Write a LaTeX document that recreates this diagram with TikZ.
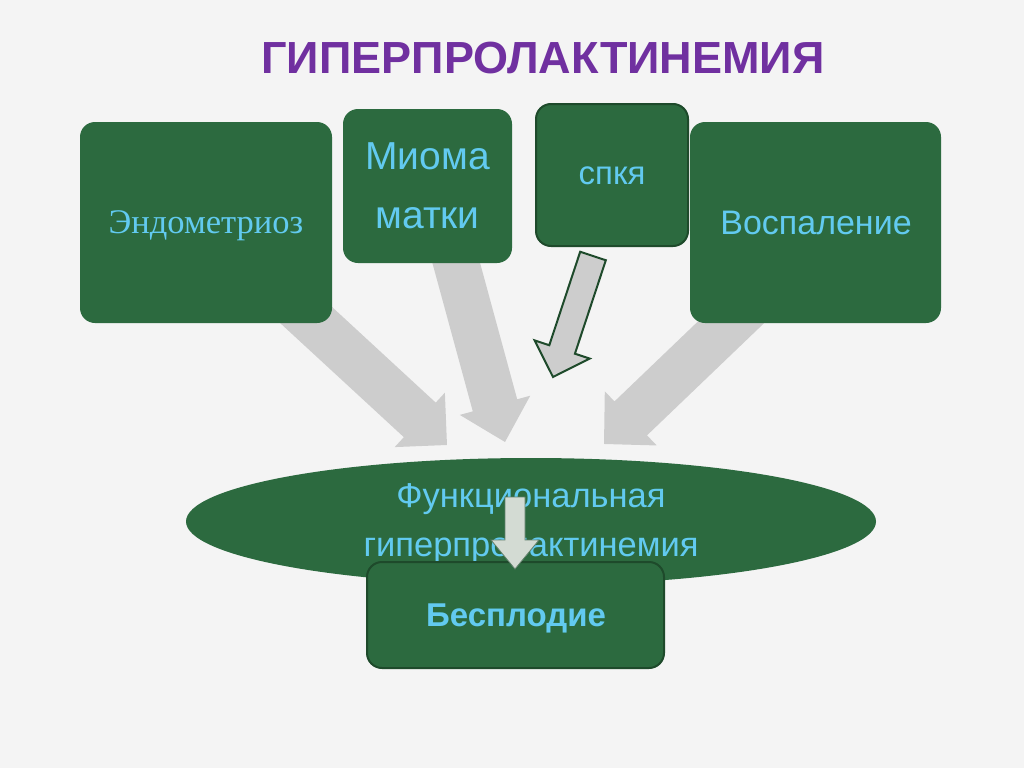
\documentclass[tikz,border=0pt]{standalone}
\usepackage{fontspec}
\setmainfont{Liberation Sans}
\newfontfamily\serifru{Liberation Serif}
\usetikzlibrary{calc,shapes.geometric}

\definecolor{bg}{HTML}{F4F4F4}
\definecolor{boxgreen}{HTML}{2C6A3F}
\definecolor{boxedge}{HTML}{1E4A2B}
\definecolor{txtblue}{HTML}{62CAF0}
\definecolor{titlepurple}{HTML}{7030A0}
\definecolor{arrowgray}{HTML}{CDCDCD}
\definecolor{smallarrow}{HTML}{D3DBD3}

% #1 style, #2 tail, #3 tip, #4 half shaft, #5 half head, #6 head length
\newcommand\blockarrow[6]{%
  \path[#1] let \p1=#2, \p2=#3,
    \n1={atan2(\y2-\y1,\x2-\x1)}, \n2={veclen(\x2-\x1,\y2-\y1)} in
    [shift={#2}, rotate=\n1]
    (0,#4) -- (\n2-#6,#4) -- (\n2-#6,#5) -- (\n2,0) -- (\n2-#6,-#5)
    -- (\n2-#6,-#4) -- (0,-#4) -- cycle;
}

\tikzset{
  greenbox/.style={rectangle, rounded corners=15pt, fill=boxgreen, inner sep=0pt},
  edgebox/.style={greenbox, draw=boxedge, line width=2pt},
  lbl/.style={text=txtblue, inner sep=0pt, anchor=base, font=\fontsize{34}{40}\selectfont},
  grayarrow/.style={fill=arrowgray},
  outlinearrow/.style={fill=arrowgray, draw=boxedge, line width=2pt, line join=miter},
  downarrow/.style={fill=smallarrow, draw=boxedge!70, line width=0.8pt},
}

\begin{document}
\begin{tikzpicture}[x=1pt, y=-1pt]
\useasboundingbox (0,0) rectangle (1024,768);
\fill[bg] (0,0) rectangle (1024,768);

% title
\node[text=titlepurple, inner sep=0pt, anchor=base,
      font=\fontsize{45}{50}\selectfont\bfseries] (title) at (543,74) {ГИПЕРПРОЛАКТИНЕМИЯ};

% arrow end points
\coordinate (tailA) at (226.5,241.6);
\coordinate (tipA)  at (447,445);
\coordinate (tailB) at (426,152);
\coordinate (tipB)  at (505,442);
\coordinate (tailC) at (820,237);
\coordinate (tipC)  at (604,444);
\coordinate (tailD) at (593,256);
\coordinate (tipD)  at (553,377);
\coordinate (tailE) at (515,497);
\coordinate (tipE)  at (515,569);

% big gray arrows (behind the boxes)
\blockarrow{grayarrow}{(tailA)}{(tipA)}{23.5}{37}{37}
\blockarrow{grayarrow}{(tailB)}{(tipB)}{23}{36.5}{38}
\blockarrow{grayarrow}{(tailC)}{(tipC)}{23.5}{37.5}{37}

% top boxes
\node[greenbox, minimum width=252pt, minimum height=201pt] (endo) at (206,222.5) {};
\node[lbl, font=\serifru\fontsize{34.5}{40}\selectfont] (endot) at (206,233) {Эндометриоз};

\node[greenbox, minimum width=169pt, minimum height=154pt] (mioma) at (427.5,186) {};
\node[lbl, font=\fontsize{39}{45}\selectfont] (miomat1) at (427.5,169) {Миома};
\node[lbl, font=\fontsize{39}{45}\selectfont] (miomat2) at (427.5,228) {матки};

\node[edgebox, minimum width=152pt, minimum height=142pt] (spkya) at (612,175) {};
\node[lbl, font=\fontsize{33}{40}\selectfont] (spkyat) at (612,184) {спкя};

\node[greenbox, minimum width=251pt, minimum height=201pt] (vosp) at (815.5,222.5) {};
\node[lbl] (vospt) at (816,234) {Воспаление};

% outlined arrow from спкя
\blockarrow{outlinearrow}{(tailD)}{(tipD)}{13.5}{29}{29}

% ellipse
\node[ellipse, fill=boxgreen, inner sep=0pt, minimum width=690pt, minimum height=127pt] (func) at (531,521.5) {};
\node[lbl, font=\fontsize{34.5}{40}\selectfont] (funct1) at (531,507) {Функциональная};
\node[lbl, font=\fontsize{34.5}{40}\selectfont] (funct2) at (531,556) {гиперпролактинемия};

% result box
\node[edgebox, minimum width=297pt, minimum height=106pt] (besp) at (515.5,615) {};
\node[lbl, font=\fontsize{33}{40}\selectfont\bfseries] (bespt) at (516,626) {Бесплодие};

% small down arrow
\blockarrow{downarrow}{(tailE)}{(tipE)}{10}{24}{29}
\end{tikzpicture}
\end{document}
